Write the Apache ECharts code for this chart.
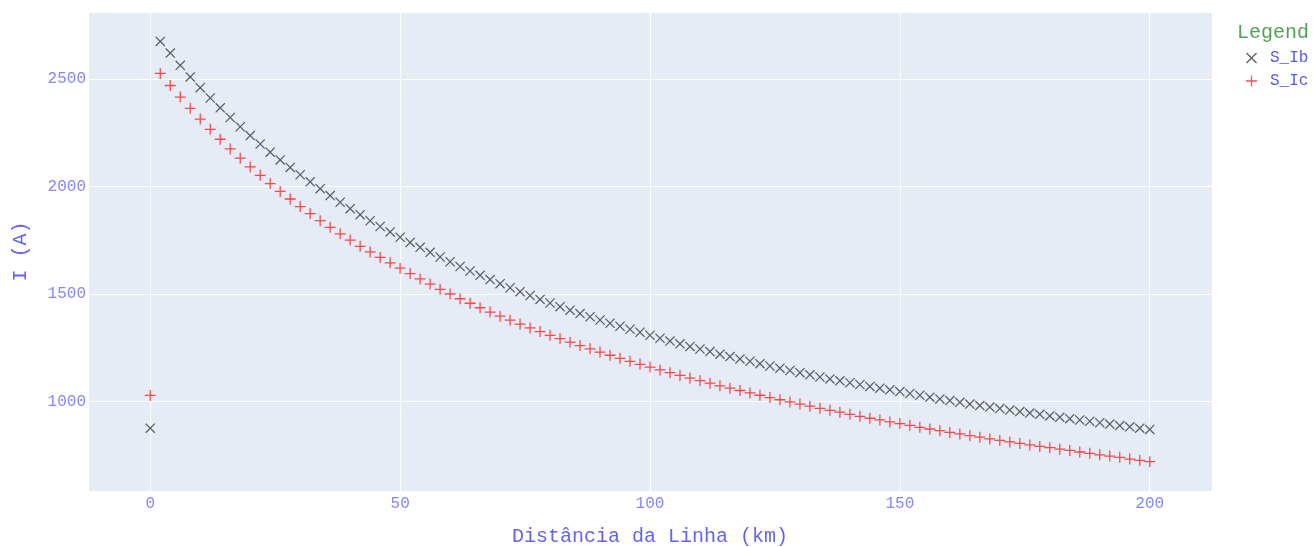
<!DOCTYPE html>
<html>
<head>
<meta charset="utf-8">
<script src="https://cdn.jsdelivr.net/npm/echarts@6/dist/echarts.min.js"></script>
<style>
  html, body { margin: 0; padding: 0; background: #ffffff; }
  #chart { width: 1313px; height: 547px; }
</style>
</head>
<body>
<div id="chart"></div>
<script>
// Distance along the line (km)
const distances = [
  0, 2, 4, 6, 8, 10, 12, 14, 16, 18, 20, 22, 24, 26, 28, 30, 32, 34, 36, 38, 40,
  42, 44, 46, 48, 50, 52, 54, 56, 58, 60, 62, 64, 66, 68, 70, 72, 74, 76, 78, 80,
  82, 84, 86, 88, 90, 92, 94, 96, 98, 100, 102, 104, 106, 108, 110, 112, 114, 116, 118, 120,
  122, 124, 126, 128, 130, 132, 134, 136, 138, 140, 142, 144, 146, 148, 150, 152, 154, 156, 158, 160,
  162, 164, 166, 168, 170, 172, 174, 176, 178, 180, 182, 184, 186, 188, 190, 192, 194, 196, 198, 200
];

// Current in phase b (A)
const sIb = [
  876, 2675, 2621, 2564, 2510, 2460, 2412, 2366, 2321, 2278, 2237, 2198, 2160, 2124, 2089, 2055, 2022, 1990, 1958, 1927, 1897,
  1869, 1841, 1814, 1789, 1764, 1740, 1717, 1694, 1672, 1650, 1628, 1607, 1587, 1567, 1548, 1529, 1511, 1493, 1475, 1458,
  1441, 1425, 1409, 1394, 1379, 1364, 1350, 1336, 1322, 1308, 1294, 1281, 1268, 1256, 1244, 1232, 1220, 1209, 1198, 1187,
  1176, 1165, 1155, 1144, 1134, 1124, 1114, 1105, 1096, 1087, 1079, 1070, 1062, 1054, 1046, 1037, 1029, 1020, 1012, 1004,
  996, 988, 981, 974, 967, 960, 953, 946, 940, 933, 927, 920, 914, 908, 901, 895, 888, 882, 876, 870
];

// Current in phase c (A)
const sIc = [
  1028, 2526, 2470, 2416, 2364, 2314, 2266, 2220, 2175, 2132, 2091, 2052, 2014, 1977, 1942, 1907, 1874, 1841, 1810, 1780, 1751,
  1722, 1696, 1670, 1645, 1620, 1595, 1570, 1546, 1522, 1500, 1478, 1457, 1436, 1416, 1397, 1378, 1360, 1342, 1325, 1308,
  1292, 1276, 1260, 1245, 1230, 1215, 1201, 1187, 1173, 1160, 1147, 1134, 1121, 1109, 1097, 1085, 1073, 1062, 1051, 1040,
  1029, 1018, 1008, 998, 988, 978, 968, 959, 950, 940, 931, 922, 914, 905, 897, 889, 880, 872, 864, 856,
  849, 841, 834, 826, 819, 812, 805, 798, 791, 785, 778, 772, 765, 759, 752, 746, 740, 732, 726, 720
];

const seriesNames = ['S_Ib', 'S_Ic'];
const xTitle = 'Distância da Linha (km)';
const yTitle = 'I (A)';
const legendTitle = 'Legend';

// thin "x" and "+" marker outlines
const xThin = 'path://M0,1 L1,0 L12,11 L11,12 Z M11,0 L12,1 L1,12 L0,11 Z';
const crossThin = 'path://M0,5.3 L12,5.3 L12,6.7 L0,6.7 Z M5.3,0 L6.7,0 L6.7,12 L5.3,12 Z';

const MONO = '"Liberation Mono", "DejaVu Sans Mono", monospace';
const tickColor = '#8585ff';
const titleColor = '#6464f0';

const chart = echarts.init(document.getElementById('chart'), null, { renderer: 'canvas' });

const pairs = (vals) => distances.map((d, i) => [d, vals[i]]);
const plain = (v) => String(Math.round(v));

chart.setOption({
  animation: false,
  backgroundColor: '#ffffff',
  title: {
    text: legendTitle,
    left: 1237,
    top: 23,
    padding: 0,
    textStyle: { fontFamily: MONO, fontSize: 20, fontWeight: 'normal', color: '#55a055' }
  },
  legend: {
    data: seriesNames,
    orient: 'vertical',
    left: 1246,
    top: 50,
    padding: 0,
    itemWidth: 11,
    itemHeight: 11,
    itemGap: 7,
    textStyle: { fontFamily: MONO, fontSize: 16, color: '#5a5ae6', padding: [0, 0, 0, 8] }
  },
  grid: {
    left: 88,
    top: 12,
    right: 101,
    bottom: 56,
    show: true,
    backgroundColor: '#E5ECF6',
    borderWidth: 0,
    containLabel: false,
    outerBoundsMode: 'none'
  },
  xAxis: {
    type: 'value',
    min: -12.46,
    max: 212.46,
    splitNumber: 5,
    name: xTitle,
    nameLocation: 'middle',
    nameGap: 36,
    nameTextStyle: { fontFamily: MONO, fontSize: 20, color: titleColor },
    axisLine: { show: false },
    axisTick: { show: false },
    axisLabel: { fontFamily: MONO, fontSize: 16, color: tickColor, margin: 5, formatter: plain, showMinLabel: false, showMaxLabel: false },
    splitLine: { show: true, lineStyle: { color: '#ffffff', width: 1 } }
  },
  yAxis: {
    type: 'value',
    min: 583.5,
    max: 2812,
    splitNumber: 5,
    name: yTitle,
    nameLocation: 'middle',
    nameGap: 57,
    nameTextStyle: { fontFamily: MONO, fontSize: 20, color: titleColor },
    axisLine: { show: false },
    axisTick: { show: false },
    axisLabel: { fontFamily: MONO, fontSize: 16, color: tickColor, margin: 2, formatter: plain, showMinLabel: false, showMaxLabel: false },
    splitLine: { show: true, lineStyle: { color: '#ffffff', width: 1 } }
  },
  series: [
    {
      name: seriesNames[0],
      type: 'scatter',
      data: pairs(sIb),
      symbol: xThin,
      symbolSize: 10,
      itemStyle: { color: '#333333' }
    },
    {
      name: seriesNames[1],
      type: 'scatter',
      data: pairs(sIc),
      symbol: crossThin,
      symbolSize: 11,
      itemStyle: { color: '#ff1f1f' }
    }
  ]
});
</script>
</body>
</html>
